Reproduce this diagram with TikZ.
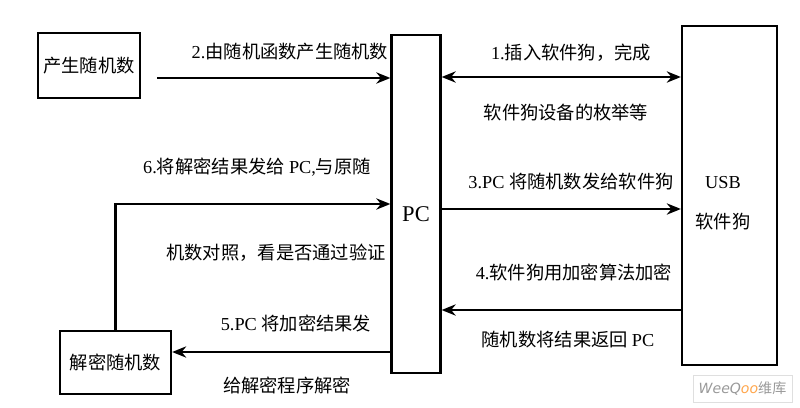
\documentclass[tikz,border=0pt]{standalone}
\usepackage{fontspec}
\setmainfont{Liberation Serif}
\newfontfamily\cjk{Noto Sans CJK SC}
\newfontfamily\wmfont{DejaVu Sans}
\usepackage{xcolor}
\usetikzlibrary{arrows.meta}

\begin{document}
\begin{tikzpicture}[x=0.025cm, y=-0.025cm,
    >={Stealth[length=10pt, width=8pt]},
    box/.style={draw, line width=1.6pt, inner sep=0pt},
    lbl/.style={font=\fontsize{13}{15}\selectfont\cjk, inner sep=0pt},
    link/.style={line width=1.6pt, ->}]
    \useasboundingbox (0,0) rectangle (800,407);

    % Boxes
    \node[box, lbl, minimum width=2.55cm, minimum height=1.625cm] (gen) at (89,65.5) {产生随机数};
    \node[box, minimum width=1.225cm, minimum height=8.45cm] (pc) at (416,204) {};
    \node[box, minimum width=2.375cm, minimum height=8.475cm] (usb) at (729.5,195.5) {};
    \node[box, lbl, minimum width=2.775cm, minimum height=1.575cm] (dec) at (115.5,362.5) {解密随机数};

    % Texts inside the tall boxes
    \node[font=\fontsize{16}{18}\selectfont, inner sep=0pt] (pctext) at (416,214) {PC};
    \node[lbl, align=center] (usbtext) at (723,203) {{\rmfamily USB}\\[13pt]软件狗};

    % Levels of the connectors
    \coordinate (y1) at (0,77);
    \coordinate (y3) at (0,209);
    \coordinate (y4) at (0,310);
    \coordinate (y5) at (0,352);
    \coordinate (y6) at (0,204);
    \coordinate (s2) at (157,78);

    % Connectors
    \draw[link] (s2) -- (s2 -| pc.west);
    \draw[link, <->] (pc.east |- y1) -- (usb.west |- y1);
    \draw[link] (pc.east |- y3) -- (usb.west |- y3);
    \draw[link] (usb.west |- y4) -- (pc.east |- y4);
    \draw[link] (pc.west |- y5) -- (dec.east |- y5);
    \draw[link] (dec.north) |- (pc.west |- y6);

    % Connector labels
    \node[lbl] (t2) at (290,52) {{\rmfamily 2.}由随机函数产生随机数};
    \node[lbl] (t1a) at (571,53) {{\rmfamily 1.}插入软件狗，完成};
    \node[lbl] (t1b) at (566,113) {软件狗设备的枚举等};
    \node[lbl] (t6a) at (257,167) {{\rmfamily 6.}将解密结果发给 {\rmfamily PC,}与原随};
    \node[lbl] (t6b) at (276,253) {机数对照，看是否通过验证};
    \node[lbl] (t3) at (571,182) {{\rmfamily 3.PC }将随机数发给软件狗};
    \node[lbl] (t4a) at (574,273) {{\rmfamily 4.}软件狗用加密算法加密};
    \node[lbl] (t4b) at (568,340) {随机数将结果返回 {\rmfamily PC}};
    \node[lbl] (t5a) at (296,323) {{\rmfamily 5.PC }将加密结果发};
    \node[lbl] (t5b) at (287,385) {给解密程序解密};

    % Watermark
    \node[draw=gray!25, line width=0.6pt, minimum width=2.475cm, minimum height=0.675cm, inner sep=0pt,
          font=\fontsize{10}{12}\selectfont, text=gray!80] (wm) at (742.5,388.5)
          {{\wmfont\itshape Wee}{\wmfont\itshape Q}{\wmfont\itshape\color{orange!70}oo}{\cjk 维库}};
\end{tikzpicture}
\end{document}
